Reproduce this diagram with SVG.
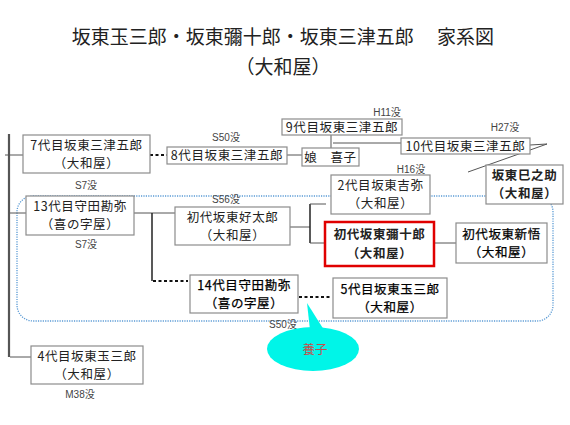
<svg xmlns="http://www.w3.org/2000/svg" width="570" height="425" viewBox="0 0 570 425">
<style>
.title{font-family:"Noto Sans CJK JP","Noto Sans",sans-serif;font-size:19px;fill:#222;text-anchor:middle}
.box{fill:#fff;stroke:#8c8c8c;stroke-width:1.2}
.red{fill:#fff;stroke:#e00000;stroke-width:2.5}
.t{font-family:"Noto Sans CJK JP","Noto Sans",sans-serif;font-size:12.5px;fill:#222;text-anchor:middle;letter-spacing:0.6px}
.b{font-weight:bold}
.m{fill:#000;stroke:#000;stroke-width:0.25}
.note{font-family:"Liberation Sans","Noto Sans CJK JP",sans-serif;font-size:10px;fill:#444;text-anchor:middle}
.ln{fill:none;stroke:#555;stroke-width:1}
.dk{fill:none;stroke:#222;stroke-width:1.5}
.ds{fill:none;stroke:#111;stroke-width:2;stroke-dasharray:3,2.5}
</style>
<text class="title" x="283" y="44">坂東玉三郎・坂東彌十郎・坂東三津五郎　 家系図</text>
<text class="title" x="283" y="74">（大和屋）</text>

<rect x="17" y="196" width="536" height="125" rx="16" ry="16" fill="none" stroke="#5b9bd5" stroke-width="1.3" stroke-dasharray="1.2,1.2"/>

<g id="connectors">
<line x1="9" y1="134" x2="9" y2="357" stroke="#555" stroke-width="2.2"/>
<line class="ln" x1="5" y1="155" x2="23" y2="155"/>
<line class="ln" x1="10" y1="213" x2="26" y2="213"/>
<line class="ln" x1="10" y1="357" x2="31" y2="357"/>
<line class="ds" x1="150" y1="155" x2="167" y2="155"/>
<line class="ln" x1="287" y1="155" x2="302" y2="155"/>
<line class="ln" x1="331" y1="134" x2="331" y2="148"/>
<line class="ln" x1="333" y1="143" x2="401" y2="143"/>
<polyline class="ln" points="530,145 547,144 468,172"/>
<line class="ln" x1="134" y1="213" x2="175" y2="213"/>
<line class="dk" x1="152" y1="213" x2="152" y2="281"/>
<line class="ds" x1="153" y1="281" x2="188" y2="281"/>
<line class="ln" x1="290" y1="227" x2="310" y2="227"/>
<line class="dk" x1="310" y1="204" x2="310" y2="243"/>
<line class="ln" x1="310" y1="204" x2="326" y2="204"/>
<line class="ln" x1="310" y1="243" x2="325" y2="243"/>
<line class="ln" x1="434" y1="243" x2="456" y2="243"/>
<line class="ds" x1="299" y1="297" x2="332" y2="297"/>
</g>

<g id="n7">
<rect class="box" x="23" y="135" width="127" height="38"/>
<text class="t" x="86.5" y="150">7代目坂東三津五郎</text>
<text class="t" x="86.5" y="168">（大和屋）</text>
<text class="note" x="86" y="189">S7没</text>
</g>
<g id="n8">
<rect class="box" x="167" y="147" width="120" height="17"/>
<text class="t" x="227" y="160">8代目坂東三津五郎</text>
<text class="note" x="226" y="141">S50没</text>
</g>
<g id="n9">
<rect class="box" x="282" y="119" width="120" height="16"/>
<text class="t" x="342" y="132">9代目坂東三津五郎</text>
<text class="note" x="387" y="116">H11没</text>
</g>
<g id="nKiko">
<rect class="box" x="302" y="148" width="57" height="18"/>
<text class="t" x="330.5" y="161.5">娘　喜子</text>
</g>
<g id="n10">
<rect class="box" x="401" y="138" width="129" height="16"/>
<text class="t" x="465.5" y="151">10代目坂東三津五郎</text>
<text class="note" x="505" y="131">H27没</text>
</g>
<g id="nMinosuke">
<rect class="box" x="486" y="165" width="77" height="39"/>
<text class="t b" x="524.5" y="180">坂東巳之助</text>
<text class="t b" x="524.5" y="198">（大和屋）</text>
</g>
<g id="nKichiya">
<rect class="box" x="331" y="175" width="99" height="39"/>
<text class="t" x="380.5" y="190">2代目坂東吉弥</text>
<text class="t" x="380.5" y="208">（大和屋）</text>
<text class="note" x="411" y="173">H16没</text>
</g>
<g id="n13">
<rect class="box" x="26" y="196" width="108" height="39"/>
<text class="t" x="80" y="211">13代目守田勘弥</text>
<text class="t" x="80" y="229">（喜の字屋）</text>
<text class="note" x="86" y="248">S7没</text>
</g>
<g id="nKotaro">
<rect class="box" x="175" y="207" width="115" height="38"/>
<text class="t" x="232.5" y="222">初代坂東好太郎</text>
<text class="t" x="232.5" y="240">（大和屋）</text>
<text class="note" x="226" y="203">S56没</text>
</g>
<g id="nYajuro">
<rect class="red" x="325" y="222" width="109" height="44"/>
<text class="t b" x="379.5" y="239">初代坂東彌十郎</text>
<text class="t b" x="379.5" y="258">（大和屋）</text>
</g>
<g id="nShingo">
<rect class="box" x="456" y="223" width="91" height="40"/>
<text class="t m" x="501.5" y="239">初代坂東新悟</text>
<text class="t m" x="501.5" y="257">（大和屋）</text>
</g>
<g id="n14">
<rect class="box" x="190" y="275" width="108" height="38"/>
<text class="t m" x="244" y="290">14代目守田勘弥</text>
<text class="t m" x="244" y="308">（喜の字屋）</text>
<text class="note" x="283" y="328">S50没</text>
</g>
<g id="n5">
<rect class="box" x="333" y="278" width="114" height="40"/>
<text class="t m" x="390" y="294">5代目坂東玉三郎</text>
<text class="t m" x="390" y="312">（大和屋）</text>
</g>
<g id="n4">
<rect class="box" x="31" y="346" width="112" height="38"/>
<text class="t" x="87" y="361">4代目坂東玉三郎</text>
<text class="t" x="87" y="379">（大和屋）</text>
<text class="note" x="80" y="398">M38没</text>
</g>
<g id="callout">
<path d="M307,303 L310,330 L324,330 Z" fill="#00f5e8"/>
<ellipse cx="313" cy="349" rx="46" ry="22" fill="#00f5e8"/>
<text x="315" y="354" font-family="Noto Sans CJK JP,sans-serif" font-size="12.5" fill="#c0504d" text-anchor="middle">養子</text>
</g>
</svg>
